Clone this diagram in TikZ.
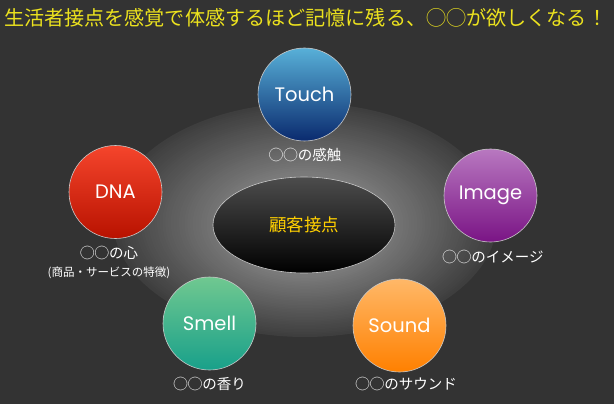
\documentclass[tikz,border=0pt]{standalone}
\usepackage{fontspec}
\setmainfont{Noto Sans CJK JP}
\newfontfamily\latinfont{Poppins}
\usepackage{xcolor}
\usepackage{tikz}
\usetikzlibrary{shapes.geometric,positioning}

\definecolor{bgdark}{HTML}{333333}
\definecolor{ringlight}{HTML}{7A7A7A}
\definecolor{ringdark}{HTML}{3E3E3E}
\definecolor{rimgray}{HTML}{C8C8C8}
\definecolor{titleyellow}{HTML}{ECE21E}
\definecolor{coreyellow}{HTML}{FFD000}
\definecolor{touchtop}{HTML}{58B0D8}
\definecolor{touchbot}{HTML}{0A2A6E}
\definecolor{dnatop}{HTML}{F5452C}
\definecolor{dnabot}{HTML}{B81200}
\definecolor{imagetop}{HTML}{B878C0}
\definecolor{imagebot}{HTML}{7A1485}
\definecolor{smelltop}{HTML}{70C890}
\definecolor{smellbot}{HTML}{18A08A}
\definecolor{soundtop}{HTML}{FFB868}
\definecolor{soundbot}{HTML}{FF8000}

\begin{document}
\begin{tikzpicture}[x=1pt,y=-1pt,
        sense/.style={circle,minimum size=93pt,inner sep=0pt,draw=rimgray,line width=0.6pt,
            text=white,font=\latinfont\fontsize{19.5}{24}\selectfont},
        caption/.style={text=white,inner sep=0pt,font=\fontsize{14.5}{17}\selectfont},
        core/.style={ellipse,minimum width=182pt,minimum height=96pt,inner sep=0pt,draw=rimgray,
            line width=0.6pt,top color=black!70!white,middle color=black!97!white,bottom color=black,
            text=coreyellow,font=\fontsize{17.5}{20}\selectfont}]
    \useasboundingbox (0,0) rectangle (614,404);
    \fill[bgdark] (0,0) rectangle (614,404);
    \node[anchor=west,inner sep=0pt,text=titleyellow,font=\fontsize{20.1}{24}\selectfont] (title) at (4,18)
        {生活者接点を感覚で体感するほど記憶に残る、◯◯が欲しくなる！};
    \foreach \k in {0,...,40}{
        \pgfmathsetmacro\mix{2.5*\k}
        \pgfmathsetmacro\rx{192-110*\k/40}
        \pgfmathsetmacro\ry{117-65*\k/40}
        \fill[ringlight!\mix!ringdark] (305,220+0.12*\k) ellipse [x radius=\rx pt, y radius=\ry pt];
    }
    \node[core] (core) at (304,225) {顧客接点};
    \node[sense,top color=touchtop,bottom color=touchbot] (touch) at (304.5,94.5) {Touch};
    \node[sense,top color=dnatop,bottom color=dnabot] (dna) at (115.5,192) {DNA};
    \node[sense,top color=imagetop,bottom color=imagebot] (image) at (490.5,195.5) {Image};
    \node[sense,top color=smelltop,bottom color=smellbot] (smell) at (209.5,323.5) {Smell};
    \node[sense,top color=soundtop,bottom color=soundbot] (sound) at (399.5,325.5) {Sound};
    \node[caption] (touchcap) at (305,155) {◯◯の感触};
    \node[caption] (dnacap) at (109,253) {◯◯の心};
    \node[caption,font=\fontsize{11.5}{14}\selectfont] (dnanote) at (109,273) {(商品・サービスの特徴)};
    \node[caption] (imagecap) at (493,257) {◯◯のイメージ};
    \node[caption] (smellcap) at (209.5,384) {◯◯の香り};
    \node[caption] (soundcap) at (406,384) {◯◯のサウンド};
\end{tikzpicture}
\end{document}
